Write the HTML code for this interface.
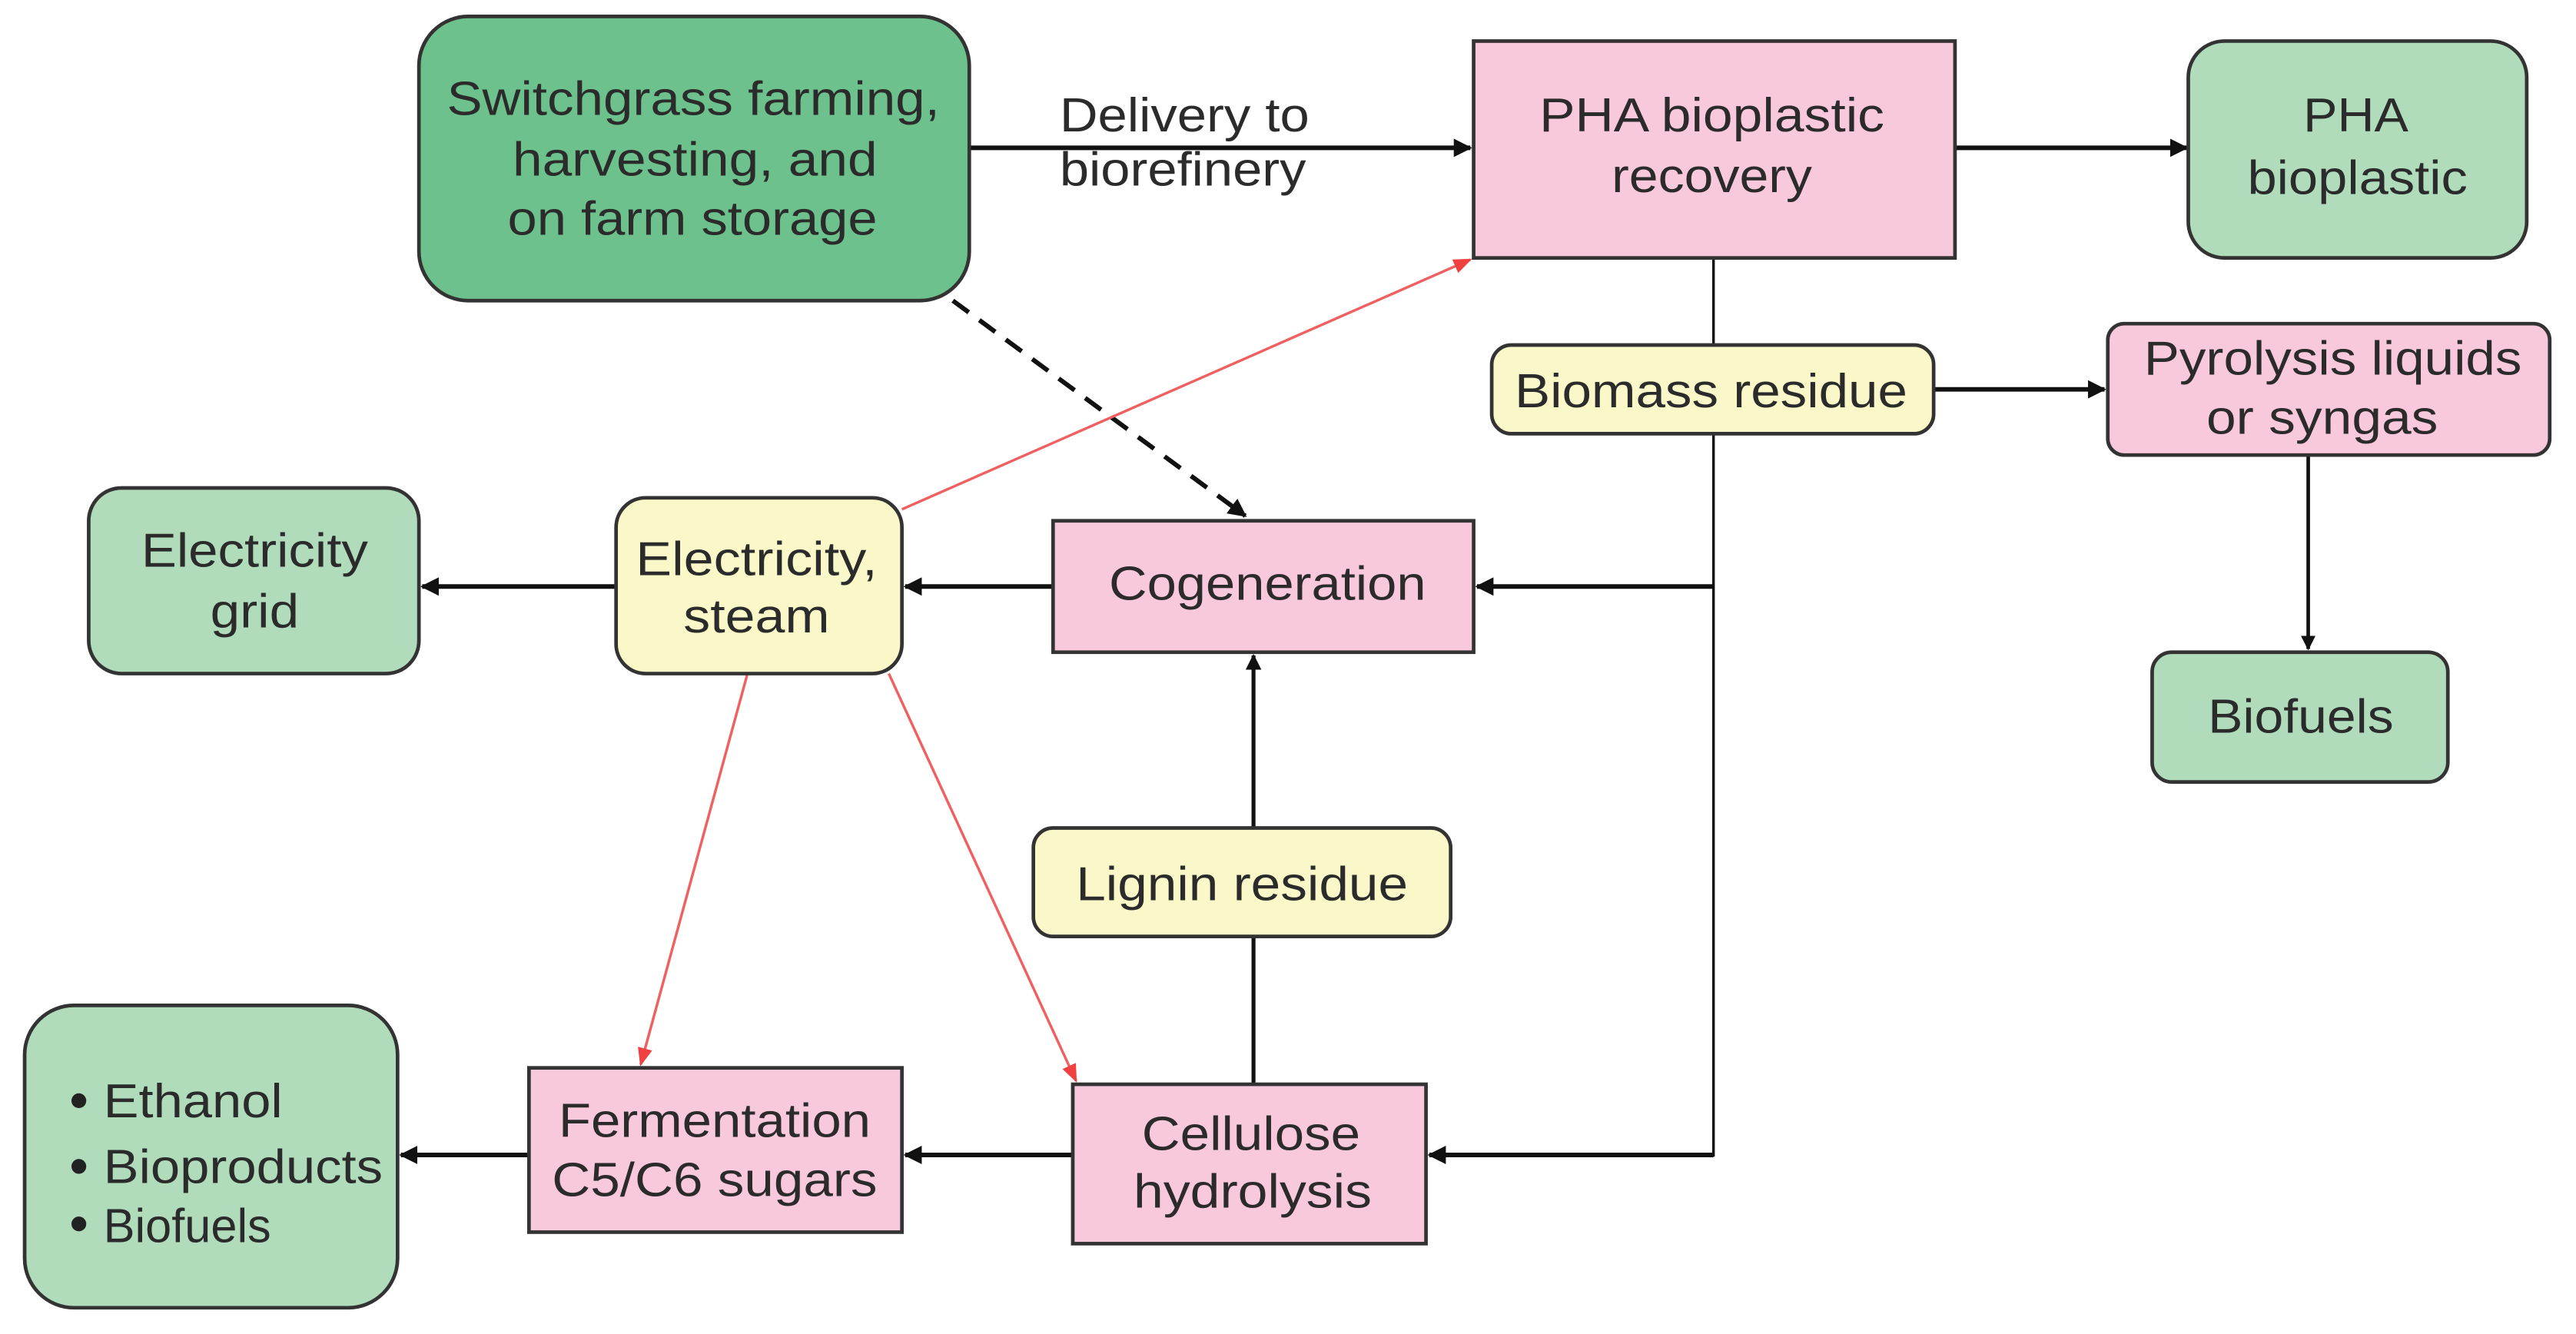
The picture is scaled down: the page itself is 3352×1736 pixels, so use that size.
<!DOCTYPE html>
<html><head><meta charset="utf-8"><style>
html,body{margin:0;padding:0;background:#fff;}
svg{display:block;}
text{font-family:"Liberation Sans",Arial,sans-serif;font-size:29px;fill:#2b2b2b;}
</style></head><body>
<svg width="3352" height="1736" viewBox="0 0 1568 812" preserveAspectRatio="none" xmlns="http://www.w3.org/2000/svg">
<defs>
<marker id="ab" viewBox="0 0 10 10" refX="9" refY="5" markerWidth="4" markerHeight="4" orient="auto"><path d="M0,0 L10,5 L0,10 z" fill="#111"/></marker>
<marker id="ar" viewBox="0 0 10 10" refX="9" refY="5" markerWidth="7" markerHeight="7" orient="auto"><path d="M0,1 L10,5 L0,9 z" fill="#f04040"/></marker>
</defs>
<g stroke="#111" stroke-width="2.8" fill="none">
<line x1="590" y1="90" x2="895" y2="90" marker-end="url(#ab)"/>
<line x1="1190" y1="90" x2="1331" y2="90" marker-end="url(#ab)"/>
<line x1="1177" y1="237" x2="1281" y2="237" marker-end="url(#ab)"/>
<line x1="1405" y1="277" x2="1405" y2="395" stroke-width="2.2" marker-end="url(#ab)"/>
<line x1="1043" y1="357" x2="899" y2="357" marker-end="url(#ab)"/>
<line x1="641" y1="357" x2="551" y2="357" marker-end="url(#ab)"/>
<line x1="375" y1="357" x2="257" y2="357" marker-end="url(#ab)"/>
<line x1="763" y1="660" x2="763" y2="399" stroke-width="2.4" marker-end="url(#ab)"/>
<line x1="1043" y1="703" x2="870" y2="703" marker-end="url(#ab)"/>
<line x1="653" y1="703" x2="551" y2="703" marker-end="url(#ab)"/>
<line x1="322" y1="703" x2="244" y2="703" marker-end="url(#ab)"/>
<line x1="1043" y1="157" x2="1043" y2="704" stroke-width="1.6"/>
<line x1="580" y1="183" x2="758" y2="314" stroke-dasharray="12,8" marker-end="url(#ab)"/>
</g>
<g stroke="#f06060" stroke-width="1.6" fill="none">
<line x1="549" y1="310" x2="895" y2="158" marker-end="url(#ar)"/>
<line x1="455" y1="410" x2="390" y2="648" marker-end="url(#ar)"/>
<line x1="541" y1="410" x2="655" y2="658" marker-end="url(#ar)"/>
</g>
<g stroke="#333" stroke-width="2.2">
<rect x="255" y="10" width="335" height="173" rx="30" fill="#6cc18c"/>
<rect x="897" y="25" width="293" height="132" fill="#f8c8dc"/>
<rect x="1332" y="25" width="206" height="132" rx="22" fill="#b0dcbc"/>
<rect x="908" y="210" width="269" height="54" rx="12" fill="#faf7c8"/>
<rect x="1283" y="197" width="269" height="80" rx="10" fill="#f8c8dc"/>
<rect x="1310" y="397" width="180" height="79" rx="12" fill="#b0dcbc"/>
<rect x="641" y="317" width="256" height="80" fill="#f8c8dc"/>
<rect x="375" y="303" width="174" height="107" rx="18" fill="#faf7c8"/>
<rect x="54" y="297" width="201" height="113" rx="20" fill="#b0dcbc"/>
<rect x="629" y="504" width="254" height="66" rx="12" fill="#faf7c8"/>
<rect x="653" y="660" width="215" height="97" fill="#f8c8dc"/>
<rect x="322" y="650" width="227" height="100" fill="#f8c8dc"/>
<rect x="15" y="612" width="227" height="184" rx="30" fill="#b0dcbc"/>
</g>
<g>
<text x="272" y="70" textLength="300" lengthAdjust="spacingAndGlyphs">Switchgrass farming,</text>
<text x="312" y="107" textLength="222" lengthAdjust="spacingAndGlyphs">harvesting, and</text>
<text x="309" y="143" textLength="225" lengthAdjust="spacingAndGlyphs">on farm storage</text>
<text x="645" y="80" textLength="152" lengthAdjust="spacingAndGlyphs" fill="#444">Delivery to</text>
<text x="645" y="113" textLength="150" lengthAdjust="spacingAndGlyphs" fill="#444">biorefinery</text>
<text x="937" y="80" textLength="210" lengthAdjust="spacingAndGlyphs">PHA bioplastic</text>
<text x="981" y="117" textLength="122" lengthAdjust="spacingAndGlyphs">recovery</text>
<text x="1402" y="80" textLength="64" lengthAdjust="spacingAndGlyphs">PHA</text>
<text x="1368" y="118" textLength="134" lengthAdjust="spacingAndGlyphs">bioplastic</text>
<text x="922" y="248" textLength="239" lengthAdjust="spacingAndGlyphs">Biomass residue</text>
<text x="1305" y="228" textLength="230" lengthAdjust="spacingAndGlyphs">Pyrolysis liquids</text>
<text x="1343" y="264" textLength="141" lengthAdjust="spacingAndGlyphs">or syngas</text>
<text x="1344" y="446" textLength="113" lengthAdjust="spacingAndGlyphs">Biofuels</text>
<text x="675" y="365" textLength="193" lengthAdjust="spacingAndGlyphs">Cogeneration</text>
<text x="387" y="350" textLength="147" lengthAdjust="spacingAndGlyphs">Electricity,</text>
<text x="416" y="385" textLength="89" lengthAdjust="spacingAndGlyphs">steam</text>
<text x="86" y="345" textLength="138" lengthAdjust="spacingAndGlyphs">Electricity</text>
<text x="128" y="382" textLength="54" lengthAdjust="spacingAndGlyphs">grid</text>
<text x="655" y="548" textLength="202" lengthAdjust="spacingAndGlyphs">Lignin residue</text>
<text x="695" y="700" textLength="133" lengthAdjust="spacingAndGlyphs">Cellulose</text>
<text x="690" y="735" textLength="145" lengthAdjust="spacingAndGlyphs">hydrolysis</text>
<text x="340" y="692" textLength="190" lengthAdjust="spacingAndGlyphs">Fermentation</text>
<text x="336" y="728" textLength="198" lengthAdjust="spacingAndGlyphs">C5/C6 sugars</text>
<circle cx="48" cy="670" r="4.5" fill="#222"/>
<circle cx="48" cy="710" r="4.5" fill="#222"/>
<circle cx="48" cy="745" r="4.5" fill="#222"/>
<text x="63" y="680" textLength="109" lengthAdjust="spacingAndGlyphs">Ethanol</text>
<text x="63" y="720" textLength="170" lengthAdjust="spacingAndGlyphs">Bioproducts</text>
<text x="63" y="756" textLength="102" lengthAdjust="spacingAndGlyphs">Biofuels</text>
</g>
</svg>
</body></html>
